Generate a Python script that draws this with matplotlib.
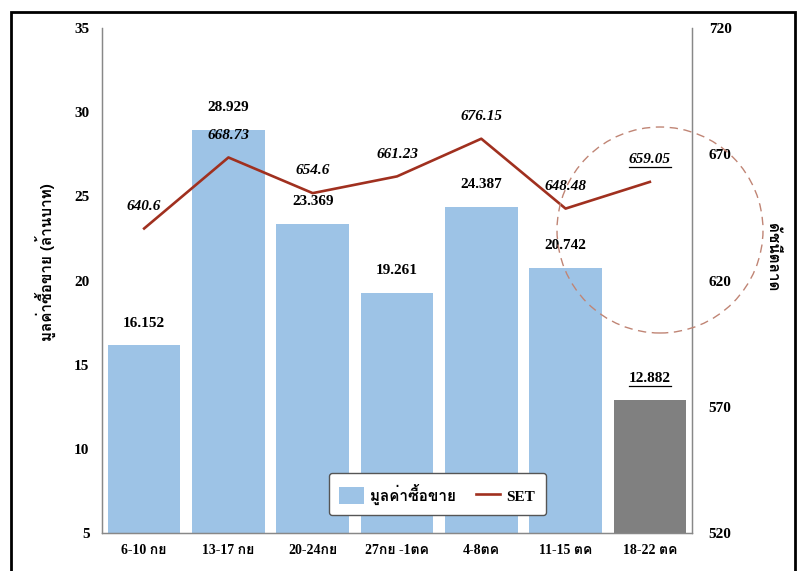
import numpy as np
import matplotlib
matplotlib.use("Agg")
import matplotlib.pyplot as plt
from matplotlib import font_manager
from matplotlib.ft2font import FT2Font
from matplotlib.patches import Ellipse, Rectangle
from matplotlib.lines import Line2D

weeks = ["6-10 กย", "13-17 กย", "20-24กย", "27กย -1ตค", "4-8ตค", "11-15 ตค", "18-22 ตค"]
value = [16.152, 28.929, 23.369, 19.261, 24.387, 20.742, 12.882]
set_index = [640.6, 668.73, 654.6, 661.23, 676.15, 648.48, 659.05]


def thai_font():
    # first installed family that actually has Thai glyphs
    for f in font_manager.fontManager.ttflist:
        try:
            if 0x0E01 in FT2Font(f.fname).get_charmap():
                return f.name
        except Exception:
            pass
    return "DejaVu Sans"


TH = thai_font()
SERIF = ["Liberation Serif", TH, "DejaVu Serif"]
plt.rcParams["font.family"] = SERIF

fig = plt.figure(figsize=(7.99, 5.71), dpi=100)
ax = fig.add_axes([102 / 799, 1 - 533 / 571, 590 / 799, 505 / 571])
ax2 = ax.twinx()

x = np.arange(len(weeks))
colors = ["#9dc3e6"] * 6 + ["#808080"]
bars = ax.bar(x, np.array(value) - 5, bottom=5, width=0.86, color=colors)
ax.set_ylim(5, 35)
ax.set_xlim(-0.5, len(weeks) - 0.5)
ax.set_yticks(range(5, 36, 5))
ax.set_xticks(x, weeks)

line, = ax2.plot(x, set_index, color="#a0301f", lw=1.9)
ax2.set_ylim(520, 720)
ax2.set_yticks(range(520, 721, 50))

bar_txt = []
for i, v in enumerate(value):
    bar_txt.append(ax.annotate(f"{v:.3f}", (x[i], v), xytext=(0, 16), textcoords="offset points",
                               ha="center", va="center", fontsize=11, fontweight="bold"))
set_txt = []
for i, v in enumerate(set_index):
    set_txt.append(ax2.annotate(f"{v:g}", (x[i], v), xytext=(0, 16), textcoords="offset points",
                                ha="center", va="center", fontsize=11, fontweight="bold", style="italic"))

for a in (ax, ax2):
    for sp in a.spines.values():
        sp.set_color("#888888")
        sp.set_linewidth(0.9)
    a.spines["top"].set_visible(False)
    a.tick_params(length=0, labelsize=11)
    for lab in a.get_yticklabels() + a.get_xticklabels():
        lab.set_fontweight("bold")
ax.tick_params(axis="x", pad=8, labelsize=10)
ax.tick_params(axis="y", pad=9)
ax2.tick_params(axis="y", pad=12)

fig.text(45 / 799, 1 - 262 / 571, "มูลค่าซื้อขาย (ล้านบาท)", rotation=90, ha="center", va="center",
         fontsize=11, fontweight="bold", family=[TH, "DejaVu Sans"])
fig.text(772 / 799, 1 - 257 / 571, "ดัชนีตลาด", rotation=270, ha="center", va="center",
         fontsize=11, fontweight="bold", family=[TH, "DejaVu Sans"])

leg = ax.legend([bars, line], ["มูลค่าซื้อขาย", "SET"], loc="center", bbox_to_anchor=(0.568, 0.077),
                ncol=2, frameon=True, fancybox=True, edgecolor="#555555", framealpha=1,
                handlelength=1.6, handleheight=1.3, handletextpad=0.4,
                prop=dict(family=SERIF, weight="bold", size=11),
                borderpad=0.7, columnspacing=1.3)
leg.get_frame().set_linewidth(1.0)

# underline the latest week's labels
fig.canvas.draw()
r = fig.canvas.get_renderer()
for t in (bar_txt[-1], set_txt[-1]):
    bb = t.get_window_extent(r)
    y0 = (bb.y0 - 1) / fig.bbox.height
    fig.add_artist(Line2D([bb.x0 / fig.bbox.width, bb.x1 / fig.bbox.width], [y0, y0],
                          transform=fig.transFigure, color="black", lw=0.9))

fig.patches.append(Ellipse((660 / 799, 1 - 230 / 571), 206 / 799, 206 / 571, transform=fig.transFigure,
                           fill=False, ls=(0, (6, 4)), lw=1.0, ec="#c08575"))
fig.patches.append(Rectangle((11 / 799, -0.01), 784 / 799, 1 - 12 / 571 + 0.01, transform=fig.transFigure,
                             fill=False, lw=2, ec="black"))

fig.savefig("out.png", dpi=100)
